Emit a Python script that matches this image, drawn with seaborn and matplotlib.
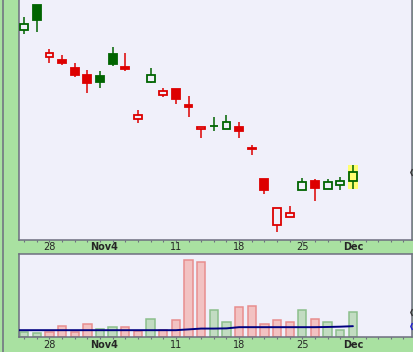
import numpy as np
import pandas as pd
import matplotlib
matplotlib.use('Agg')
import matplotlib.pyplot as plt
import seaborn as sns
from matplotlib.lines import Line2D
from matplotlib.patches import Rectangle
from matplotlib.transforms import ScaledTranslation, blended_transform_factory

# trading days shown (Thanksgiving skipped)
dates = ['Oct 24', 'Oct 25', 'Oct 28', 'Oct 29', 'Oct 30', 'Oct 31', 'Nov 1',
         'Nov 4', 'Nov 5', 'Nov 6', 'Nov 7', 'Nov 8', 'Nov 11', 'Nov 12',
         'Nov 13', 'Nov 14', 'Nov 15', 'Nov 18', 'Nov 19', 'Nov 20', 'Nov 21',
         'Nov 22', 'Nov 25', 'Nov 26', 'Nov 27', 'Nov 29', 'Dec 2']
opens = [34.50, 35.75, 33.15, 33.00, 32.60, 32.25, 32.20, 33.30, 32.65, 30.04,
         31.89, 31.24, 31.54, 30.74, 29.52, 29.69, 29.54, 29.64, 28.58, 27.05,
         24.74, 25.14, 26.47, 26.94, 26.54, 26.74, 26.92]
highs = [35.15, 35.75, 33.55, 33.25, 32.85, 32.50, 32.45, 33.65, 33.35, 30.50,
         32.60, 31.60, 31.54, 31.20, 29.64, 30.15, 30.25, 29.90, 28.74, 27.05,
         25.59, 25.70, 27.10, 27.05, 27.05, 27.15, 27.75]
lows = [34.30, 34.40, 32.85, 32.75, 32.15, 31.35, 31.60, 32.70, 32.45, 29.85,
        31.84, 31.12, 30.77, 30.12, 29.07, 29.42, 29.54, 29.07, 28.22, 26.27,
        24.37, 25.14, 26.47, 25.92, 26.54, 26.47, 26.55]
closes = [34.80, 35.00, 33.35, 32.85, 32.25, 31.85, 31.90, 32.80, 32.55, 30.22,
          32.24, 31.44, 31.04, 30.62, 29.64, 29.69, 29.89, 29.42, 28.56, 26.47,
          25.59, 25.35, 26.87, 26.57, 26.89, 26.94, 27.37]
volume = [0.53, 0.43, 0.53, 1.13, 0.53, 1.33, 0.83, 1.03, 1.03, 0.63, 1.83,
          0.67, 1.73, 7.70, 7.50, 2.70, 1.50, 3.00, 3.10, 1.30, 1.73, 1.53,
          2.70, 1.83, 1.50, 0.73, 2.50]
vol_avg = [0.70, 0.70, 0.70, 0.70, 0.70, 0.70, 0.70, 0.70, 0.70, 0.70, 0.70,
           0.70, 0.70, 0.78, 0.86, 0.86, 0.88, 1.00, 1.00, 1.00, 1.00, 1.00,
           1.00, 1.00, 1.02, 1.05, 1.10]

label_days = ['Oct 28', 'Nov 4', 'Nov 11', 'Nov 18', 'Nov 25', 'Dec 2']
label_text = ['28', 'Nov4', '11', '18', '25', 'Dec']
extra_slots = 4

GREEN_BG = '#a9e1a1'
PANEL = '#f0f0fa'
EDGE = '#6e6e80'
UP = '#006400'
DOWN = '#dd0000'
HALF_DIAMOND = [(0, 1), (-0.5, 0), (0, -1)]

sns.set_theme(style='white')
plt.rcParams['font.family'] = ['DejaVu Sans']

x = np.arange(len(dates))
o, h, l, c = map(np.array, (opens, highs, lows, closes))
prev = np.r_[c[0] - 1, c[:-1]]
up = c >= prev
hollow = c >= o
cols = np.where(up, UP, DOWN)

df = pd.DataFrame({'x': x, 'volume': volume,
                   'dir': np.where(up, 'up', 'down')})

fig = plt.figure(figsize=(4.13, 3.52), dpi=100, facecolor=GREEN_BG)
W, H = 413, 352
left, right = 18.7 / W, 411.7 / W
axp = fig.add_axes([left, 1 - 239.7 / H, right - left, 239.7 / H])
axv = fig.add_axes([left, 1 - 337.2 / H, right - left, (337.2 - 253.7) / H])

xlim = (-0.43, len(dates) - 1 + extra_slots + 0.65)

# --- price candles ---
axp.set_facecolor(PANEL)
axp.vlines(x, l, h, colors=cols, lw=1.1, zorder=2)
last = len(dates) - 1
axp.add_patch(Rectangle((x[last] - 0.4, l[last]), 0.8, h[last] - l[last],
                        facecolor='#ffff70', edgecolor='none', zorder=1.5))
body_lo = np.minimum(o, c)
body_h = np.abs(c - o)
face = [PANEL if hv else col for hv, col in zip(hollow, cols)]
face[last] = '#ffff70'
axp.bar(x, body_h, bottom=body_lo, width=0.62, color=face, edgecolor=cols,
        linewidth=1.3, zorder=3)
axp.set_ylim(24.0, 36.0)
axp.set_yticks([])
tr = blended_transform_factory(axp.transAxes, axp.transData)
axp.plot([1.0], [c[-1]], transform=tr, marker=HALF_DIAMOND, ms=5,
         mfc='none', mec='#333333', mew=1, clip_on=False, zorder=5)

# --- volume ---
axv.set_facecolor(PANEL)
sns.barplot(data=df, x='x', y='volume', hue='dir', native_scale=True,
            palette={'up': '#c2dcc2', 'down': '#f2c2c2'}, dodge=False,
            width=0.66, saturation=1, errorbar=None, legend=False, ax=axv,
            zorder=2)
edge_map = {'#c2dcc2': '#8cbf8c', '#f2c2c2': '#e88e8e'}
for p in axv.patches:
    fc = matplotlib.colors.to_hex(p.get_facecolor())
    if fc in edge_map:
        p.set_edgecolor(edge_map[fc])
        p.set_linewidth(1.1)
ma_x = np.r_[xlim[0], x]
ma_y = np.r_[vol_avg[0], vol_avg]
sns.lineplot(x=ma_x, y=ma_y, color='#000080', lw=1.4, ax=axv, zorder=4,
             sort=False)
axv.set_ylim(0, 8.33)
axv.set_yticks([])
axv.set_xlabel('')
axv.set_ylabel('')
trv = blended_transform_factory(axv.transAxes, axv.transData)
axv.plot([1.0], [volume[-1]], transform=trv, marker=HALF_DIAMOND, ms=5,
         mfc='none', mec='#333333', mew=1, clip_on=False, zorder=5)
axv.plot([1.0], [vol_avg[-1]], transform=trv, marker=HALF_DIAMOND, ms=5,
         mfc='none', mec='#2020d0', mew=1, clip_on=False, zorder=5)

# --- shared axis styling ---
lab_pos = [dates.index(d) for d in label_days]
shift = ScaledTranslation(-9 / 100, 0, fig.dpi_scale_trans)
for ax in (axp, axv):
    ax.set_xlim(*xlim)
    ax.set_xticks(range(0, len(dates) + extra_slots), minor=True)
    ax.set_xticks(lab_pos)
    ax.set_xticklabels(label_text)
    ax.tick_params(axis='x', which='both', direction='out', color=EDGE,
                   width=0.8, bottom=True, length=1.6, labelsize=7, pad=0.3)
    for sp in ax.spines.values():
        sp.set_color(EDGE)
        sp.set_linewidth(1.1)
    for t in ax.get_xticklabels():
        if t.get_text()[0].isalpha():
            t.set_fontweight('bold')
        if t.get_text() == 'Nov4':
            t.set_transform(t.get_transform() + shift)
axp.spines['top'].set_visible(False)

fig.add_artist(Line2D([2.5 / W, 2.5 / W], [0, 1], transform=fig.transFigure,
                      color=EDGE, lw=1.1))

fig.savefig('out.png', dpi=100, facecolor=GREEN_BG)
